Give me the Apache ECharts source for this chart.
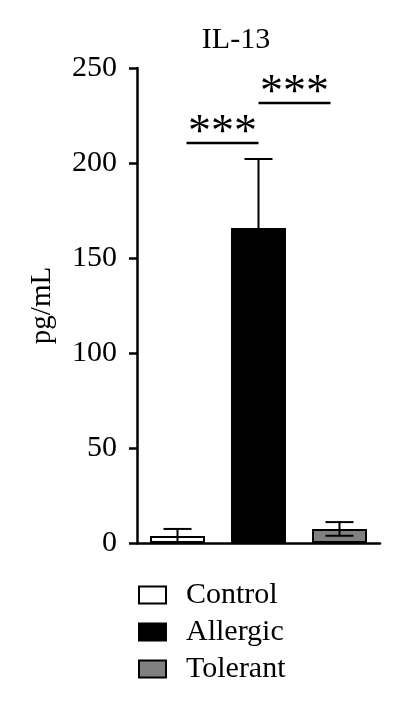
<!DOCTYPE html>
<html>
<head>
<meta charset="utf-8">
<script src="https://cdn.jsdelivr.net/npm/echarts@6/dist/echarts.min.js"></script>
<style>
  html, body { margin: 0; padding: 0; background: #fff; }
  #chart { width: 400px; height: 706px; }
</style>
</head>
<body>
<div id="chart"></div>
<script>
// ---- data ----
const categories = ['Control', 'Allergic', 'Tolerant'];
const means = [3.7, 165.8, 7.4];
const errors = [3.7, 36.3, 3.6];
const yTicks = [0, 50, 100, 150, 200, 250];
const titleText = 'IL-13';
const yAxisName = 'pg/mL';
// significance brackets: [from category index, to category index, y value]
const sigFrom = [0, 1];
const sigTo = [1, 2];
const sigY = [210.5, 231.6];
const sigLabels = ['***', '***'];

// ---- styles ----
const FONT = 'Liberation Serif';
const barColors = ['#ffffff', '#000000', '#808080'];
const sigInsets = [[9, 0], [0, 9]]; // pixel inset of bracket ends

const chart = echarts.init(document.getElementById('chart'), null, { renderer: 'canvas' });

const barSeries = categories.map((name, i) => ({
  name: name,
  type: 'bar',
  barWidth: 55,
  barGap: '-100%',
  data: categories.map((c, j) => (j === i ? means[j] : '-')),
  itemStyle: { color: barColors[i], borderColor: '#000', borderWidth: 2 },
  z: 2
}));

const errorSeries = {
  type: 'custom',
  silent: true,
  z: 5,
  data: means.map((m, i) => [i, m, errors[i]]),
  renderItem: function (params, api) {
    const idx = api.value(0), m = api.value(1), e = api.value(2);
    const top = api.coord([idx, m + e]);
    const bot = api.coord([idx, Math.max(0, m - e)]);
    const hw = 14;
    const st = { stroke: '#000', lineWidth: 2 };
    return {
      type: 'group',
      children: [
        { type: 'line', shape: { x1: top[0], y1: top[1], x2: bot[0], y2: bot[1] }, style: st },
        { type: 'line', shape: { x1: top[0] - hw, y1: top[1], x2: top[0] + hw, y2: top[1] }, style: st },
        { type: 'line', shape: { x1: bot[0] - hw, y1: bot[1], x2: bot[0] + hw, y2: bot[1] }, style: st }
      ]
    };
  }
};

const sigSeries = {
  type: 'custom',
  silent: true,
  z: 6,
  data: sigY.map((y, i) => [sigFrom[i], sigTo[i], y, i]),
  renderItem: function (params, api) {
    const a = api.value(0), b = api.value(1), y = api.value(2), k = api.value(3);
    const p1 = api.coord([a, y]);
    const p2 = api.coord([b, y]);
    const x1 = p1[0] + sigInsets[k][0];
    const x2 = p2[0] - sigInsets[k][1];
    return {
      type: 'group',
      children: [
        { type: 'line', shape: { x1: x1, y1: p1[1], x2: x2, y2: p1[1] }, style: { stroke: '#000', lineWidth: 2.5 } },
        { type: 'text', x: (x1 + x2) / 2, y: p1[1] + 14,
          style: { text: sigLabels[k], fontFamily: FONT, fontSize: 46, fill: '#000', align: 'center', verticalAlign: 'bottom' } }
      ]
    };
  }
};

chart.setOption({
  animation: false,
  backgroundColor: '#fff',
  title: {
    text: titleText,
    left: 231,
    textAlign: 'center',
    top: 20,
    textStyle: { fontFamily: FONT, fontSize: 30, fontWeight: 'normal', color: '#000' }
  },
  legend: {
    orient: 'vertical',
    left: 133,
    top: 575,
    itemWidth: 27,
    itemHeight: 17,
    itemGap: 7,
    icon: 'rect',
    data: categories,
    itemStyle: { borderColor: '#000', borderWidth: 2 },
    textStyle: { fontFamily: FONT, fontSize: 30, color: '#000', padding: [0, 0, 0, 15], lineHeight: 30 }
  },
  grid: { left: 137, right: 20, top: 68, bottom: 163 },
  xAxis: {
    type: 'category',
    data: categories,
    axisLine: { lineStyle: { color: '#000', width: 2.5 } },
    axisTick: { show: false },
    axisLabel: { show: false }
  },
  yAxis: {
    type: 'value',
    min: yTicks[0],
    max: yTicks[yTicks.length - 1],
    interval: yTicks[1] - yTicks[0],
    name: yAxisName,
    nameLocation: 'middle',
    nameGap: 80,
    nameRotate: 90,
    nameTextStyle: { fontFamily: FONT, fontSize: 29, color: '#000' },
    axisLine: { show: true, lineStyle: { color: '#000', width: 2.5 } },
    axisTick: { show: true, length: 8, lineStyle: { color: '#000', width: 2.5 } },
    splitLine: { show: false },
    axisLabel: { margin: 20, fontFamily: FONT, fontSize: 30, color: '#000' }
  },
  series: barSeries.concat([errorSeries, sigSeries])
});
</script>
</body>
</html>
